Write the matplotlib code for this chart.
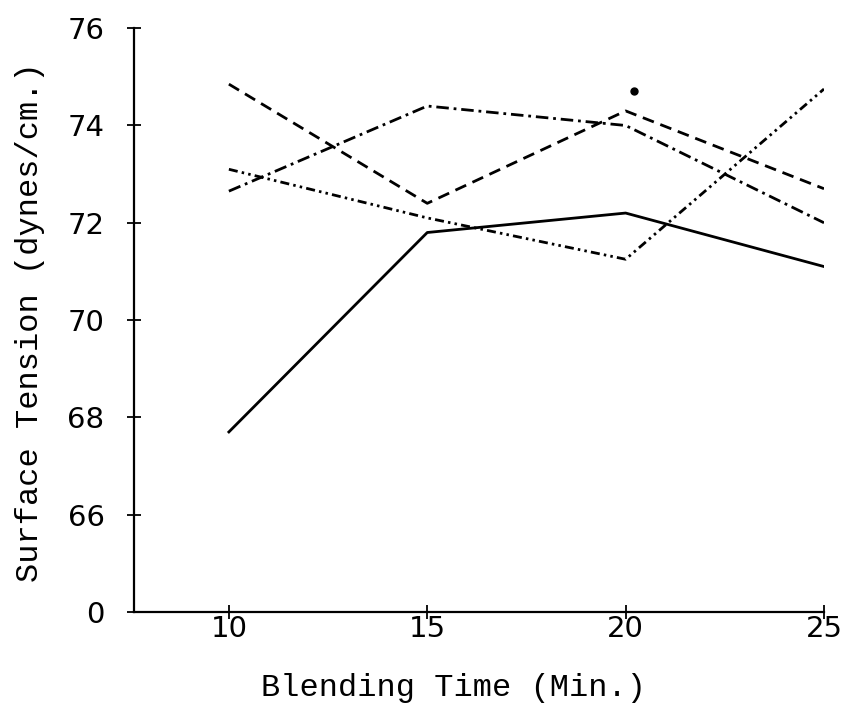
import matplotlib
matplotlib.use("Agg")
from matplotlib import pyplot as plt

# blending time (min.) and surface tension (dynes/cm.)
blend_time = [10, 15, 20, 25]
tension_solid = [67.7, 71.8, 72.2, 71.1]
tension_dashed = [74.85, 72.4, 74.3, 72.7]
tension_dash_dot = [72.65, 74.4, 74.0, 72.0]
tension_dash_dot_dot = [73.1, 72.1, 71.25, 74.75]

# stray ink dot above the 20 min point
stray_x = [20.2]
stray_y = [74.7]

y_ticks = [64, 66, 68, 70, 72, 74, 76]
y_tick_labels = ["0", "66", "68", "70", "72", "74", "76"]
x_ticks = [10, 15, 20, 25]
x_tick_labels = ["10", "15", "20", "25"]

plt.rcParams['lines.scale_dashes'] = False

fig = plt.figure(figsize=(8.46, 7.05), dpi=100)
ax = fig.add_axes([0.158, 0.132, 0.816, 0.828])

lw = 2.0
ax.plot(blend_time, tension_solid, color='black', lw=lw, linestyle='-')
ax.plot(blend_time, tension_dashed, color='black', lw=lw, dashes=(8.5, 5))
ax.plot(blend_time, tension_dash_dot, color='black', lw=lw, dashes=(9, 3.5, 2, 3.5))
ax.plot(blend_time, tension_dash_dot_dot, color='black', lw=lw,
        dashes=(6.5, 3, 1.8, 3, 1.8, 3))
ax.plot(stray_x, stray_y, 'o', color='black', markersize=5)

ax.set_xlim(7.6, 25)
ax.set_ylim(64, 76)

for side in ('top', 'right'):
    ax.spines[side].set_visible(False)
for side in ('left', 'bottom'):
    ax.spines[side].set_linewidth(1.6)

ax.set_yticks(y_ticks)
ax.set_yticklabels(y_tick_labels, fontsize=21, family='DejaVu Sans')
ax.set_xticks(x_ticks)
ax.set_xticklabels(x_tick_labels, fontsize=21, family='DejaVu Sans')
ax.tick_params(axis='both', direction='inout', length=10, width=1.3)
ax.tick_params(axis='y', pad=16)
ax.tick_params(axis='x', pad=-3)

fig.text(453 / 846, 1 - 688 / 705, "Blending Time (Min.)", family='Liberation Mono',
         fontsize=23, ha='center', va='center')
fig.text(30 / 846, 1 - 322 / 705, "Surface Tension (dynes/cm.)", family='Liberation Mono',
         fontsize=23, ha='center', va='center', rotation=90)

fig.savefig("out.png", dpi=100)
